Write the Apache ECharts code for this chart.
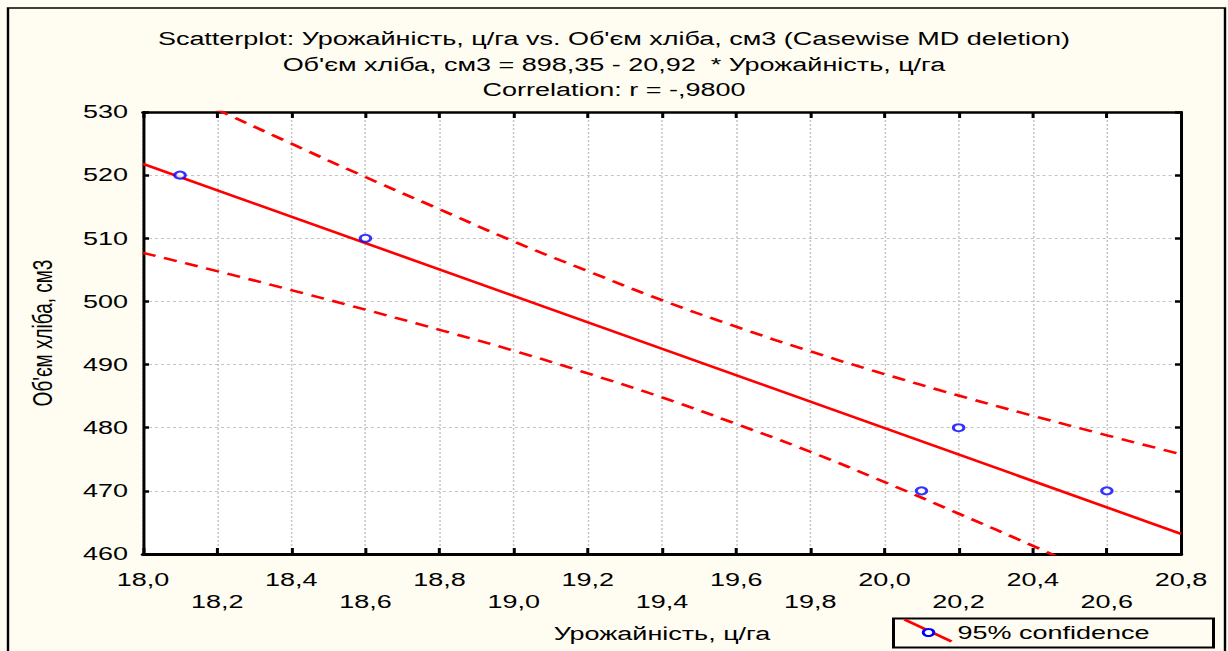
<!DOCTYPE html>
<html>
<head>
<meta charset="utf-8">
<script src="https://cdn.jsdelivr.net/npm/echarts@6/dist/echarts.min.js"></script>
<style>
html,body{margin:0;padding:0;background:#fffcf1;overflow:hidden;}
#c{width:819px;height:651px;transform-origin:0 0;}
</style>
</head>
<body>
<div id="c"></div>
<script>
// Data
var pointX = [18.1, 18.6, 20.1, 20.2, 20.6];
var pointY = [520, 510, 470, 480, 470];
var fitX = [18.0, 20.8];
var fitY = [521.8, 463.2];
var bandX = [18.0, 18.2, 18.4, 18.6, 18.8, 19.0, 19.2, 19.4, 19.6, 19.8, 20.0, 20.2, 20.4, 20.6, 20.8];
var bandUpper = [535.9, 530.4, 525.0, 519.7, 514.6, 509.5, 504.8, 500.2, 496.0, 492.1, 488.5, 485.1, 481.9, 478.8, 475.8];
var bandLower = [507.7, 504.8, 501.8, 498.7, 495.5, 492.2, 488.6, 484.8, 480.6, 476.2, 471.4, 466.4, 461.3, 456.0, 450.6];
var titleLines = [
  "Scatterplot: Урожайність, ц/га vs. Об'єм хліба, см3 (Casewise MD deletion)",
  "Об'єм хліба, см3 = 898,35 - 20,92  * Урожайність, ц/га",
  "Correlation: r = -,9800"
];
var xName = "Урожайність, ц/га";
var yName = "Об'єм хліба, см3";
var legendLabel = "95% confidence";

function zip(a, b) { return a.map(function (v, i) { return [v, b[i]]; }); }
function fmtX(v) {
  var s = v.toFixed(1).replace('.', ',');
  var idx = Math.round((v - 18.0) / 0.2);
  return idx % 2 === 1 ? '\n' + s : s;
}

// The reference picture is stretched horizontally; draw narrow and stretch.
var W = 819, S = 1228 / W;
var el = document.getElementById('c');
el.style.transform = 'scaleX(' + S + ')';
function px(v) { return v / S; }

var chart = echarts.init(el, null, { renderer: 'svg', width: W, height: 651 });
var FONT = 'Liberation Sans, Arial, sans-serif';
var gridLine = { show: true, lineStyle: { color: '#c4c4c4', type: [2, 2], width: 1 } };

chart.setOption({
  backgroundColor: '#fffcf1',
  animation: false,
  title: {
    text: titleLines.join('\n'),
    left: 'center',
    top: 21,
    textStyle: { fontFamily: FONT, fontSize: 18, fontWeight: 'normal', color: '#000', lineHeight: 25.5 }
  },
  grid: { left: px(143), right: px(47), top: 112, bottom: 97, backgroundColor: '#ffffff', show: true, borderWidth: 0 },
  xAxis: [{
    type: 'value', min: 18.0, max: 20.8, interval: 0.2,
    axisLine: { show: true, onZero: false, lineStyle: { color: '#000', width: 3 } },
    axisTick: { show: true, inside: true, length: 6, lineStyle: { color: '#000', width: 2 } },
    axisLabel: { formatter: fmtX, color: '#000', fontFamily: FONT, fontSize: 18, margin: 15, lineHeight: 22 },
    splitLine: gridLine,
    name: xName, nameLocation: 'middle', nameGap: 71,
    nameTextStyle: { fontFamily: FONT, fontSize: 18, color: '#000' }
  }, {
    type: 'value', position: 'top', min: 18.0, max: 20.8, interval: 0.2,
    axisLine: { show: true, onZero: false, lineStyle: { color: '#000', width: 2.5 } },
    axisTick: { show: true, inside: true, length: 6, lineStyle: { color: '#000', width: 2 } },
    axisLabel: { show: false }, splitLine: { show: false }
  }],
  yAxis: [{
    type: 'value', min: 460, max: 530, interval: 10,
    axisLine: { show: true, onZero: false, lineStyle: { color: '#000', width: 2 } },
    axisTick: { show: true, inside: true, length: 4, lineStyle: { color: '#000', width: 2.5 } },
    axisLabel: { color: '#000', fontFamily: FONT, fontSize: 18, margin: 10 },
    splitLine: gridLine,
    name: yName, nameLocation: 'middle', nameGap: 58, nameRotate: 90,
    nameTextStyle: { fontFamily: FONT, fontSize: 19, color: '#000' }
  }, {
    type: 'value', position: 'right', min: 460, max: 530, interval: 10,
    axisLine: { show: true, onZero: false, lineStyle: { color: '#000', width: 2 } },
    axisTick: { show: true, inside: true, length: 4, lineStyle: { color: '#000', width: 2.5 } },
    axisLabel: { show: false }, splitLine: { show: false }
  }],
  series: [
    { type: 'line', name: 'upper', data: zip(bandX, bandUpper), smooth: true, showSymbol: false, clip: true,
      lineStyle: { color: '#ff0000', width: 2.5, type: [9, 6] }, z: 3 },
    { type: 'line', name: 'lower', data: zip(bandX, bandLower), smooth: true, showSymbol: false, clip: true,
      lineStyle: { color: '#ff0000', width: 2.5, type: [9, 6] }, z: 3 },
    { type: 'line', name: 'fit', data: zip(fitX, fitY), showSymbol: false, clip: true,
      lineStyle: { color: '#ff0000', width: 2.5 }, z: 4 },
    { type: 'scatter', name: legendLabel, data: zip(pointX, pointY), symbol: 'circle', symbolSize: 7,
      itemStyle: { color: '#ffffff', borderColor: '#0000ff', borderWidth: 2 }, z: 5 }
  ],
  graphic: [
    { type: 'rect', shape: { x: px(8), y: 8, width: px(1217), height: 660 }, style: { fill: null, stroke: '#000', lineWidth: 1.6 }, z: 100 },
    { type: 'group', left: px(892), top: 617, children: [
      { type: 'rect', shape: { x: 0, y: 0, width: px(320), height: 29 }, style: { fill: '#fffcf1', stroke: '#000', lineWidth: 2 } },
      { type: 'line', shape: { x1: px(11), y1: 1, x2: px(58), y2: 23 }, style: { stroke: '#ff0000', lineWidth: 2.5 } },
      { type: 'circle', shape: { cx: px(35), cy: 14, r: 3.5 }, style: { fill: '#ffffff', stroke: '#0000ff', lineWidth: 2 } },
      { type: 'text', x: px(64), y: 14, style: { text: legendLabel, fontFamily: FONT, fontSize: 18, fill: '#000', verticalAlign: 'middle' } }
    ]}
  ]
});
</script>
</body>
</html>
